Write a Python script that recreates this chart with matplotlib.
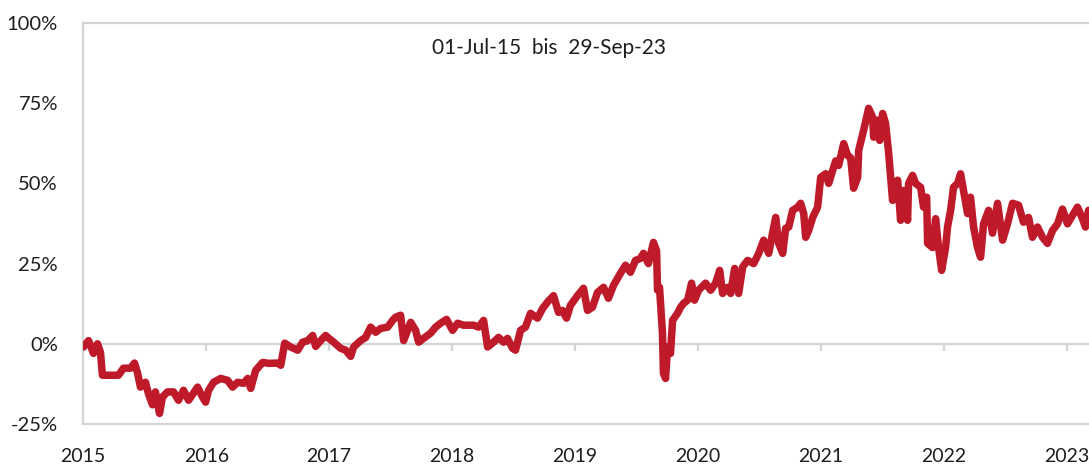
import numpy as np
import pandas as pd
import matplotlib
matplotlib.use("Agg")
import matplotlib.pyplot as plt
import matplotlib.dates as mdates
from matplotlib.ticker import FixedLocator, NullFormatter, FuncFormatter

plt.rcParams['font.family'] = ['Lato', 'DejaVu Sans']

# ---- data (decimal year, cumulative return in %) ----
decimal_years = [
    2015.500, 2015.541, 2015.581, 2015.614, 2015.638, 2015.654, 2015.720, 2015.785,
    2015.825, 2015.882, 2015.915, 2015.939, 2015.963, 2016.004, 2016.028, 2016.061,
    2016.085, 2016.118, 2016.142, 2016.183, 2016.232, 2016.272, 2016.313, 2016.354,
    2016.427, 2016.467, 2016.492, 2016.516, 2016.557, 2016.614, 2016.671, 2016.711,
    2016.752, 2016.801, 2016.833, 2016.858, 2016.898, 2016.955, 2017.004, 2017.077,
    2017.102, 2017.134, 2017.183, 2017.240, 2017.280, 2017.321, 2017.362, 2017.386,
    2017.427, 2017.467, 2017.484, 2017.533, 2017.589, 2017.630, 2017.671, 2017.695,
    2017.752, 2017.793, 2017.833, 2017.874, 2017.915, 2017.972, 2018.012, 2018.037,
    2018.077, 2018.102, 2018.134, 2018.159, 2018.199, 2018.224, 2018.264, 2018.321,
    2018.362, 2018.402, 2018.451, 2018.500, 2018.541, 2018.589, 2018.671, 2018.711,
    2018.752, 2018.785, 2018.833, 2018.874, 2018.915, 2018.947, 2018.988, 2019.012,
    2019.053, 2019.093, 2019.134, 2019.191, 2019.232, 2019.272, 2019.321, 2019.362,
    2019.394, 2019.427, 2019.459, 2019.516, 2019.565, 2019.598, 2019.638, 2019.679,
    2019.728, 2019.768, 2019.809, 2019.866, 2019.907, 2019.947, 2019.988, 2020.028,
    2020.053, 2020.093, 2020.134, 2020.159, 2020.167, 2020.183, 2020.207, 2020.215,
    2020.232, 2020.248, 2020.272, 2020.289, 2020.329, 2020.354, 2020.378, 2020.411,
    2020.443, 2020.467, 2020.500, 2020.557, 2020.598, 2020.638, 2020.671, 2020.695,
    2020.736, 2020.760, 2020.793, 2020.825, 2020.858, 2020.898, 2020.947, 2020.988,
    2021.028, 2021.069, 2021.102, 2021.126, 2021.150, 2021.183, 2021.207, 2021.232,
    2021.264, 2021.305, 2021.329, 2021.354, 2021.370, 2021.394, 2021.427, 2021.467,
    2021.492, 2021.533, 2021.557, 2021.589, 2021.614, 2021.638, 2021.679, 2021.711,
    2021.736, 2021.760, 2021.793, 2021.801, 2021.841, 2021.882, 2021.915, 2021.923,
    2021.955, 2021.972, 2021.996, 2022.020, 2022.045, 2022.077, 2022.118, 2022.142,
    2022.167, 2022.199, 2022.207, 2022.240, 2022.264, 2022.305, 2022.329, 2022.354,
    2022.362, 2022.402, 2022.427, 2022.451, 2022.476, 2022.508, 2022.524, 2022.549,
    2022.573, 2022.606, 2022.630, 2022.654, 2022.687, 2022.711, 2022.736, 2022.768,
    2022.793, 2022.817, 2022.858, 2022.890, 2022.931, 2022.972, 2023.012, 2023.053,
    2023.102, 2023.142, 2023.183, 2023.215, 2023.256, 2023.297, 2023.337, 2023.378,
    2023.419, 2023.459, 2023.500, 2023.541, 2023.581, 2023.622, 2023.646, 2023.671,
    2023.700, 2023.745,
]
returns_pct = [
    -1.0, 1.0, -3.0, 0.0, -2.7, -9.8, -9.8, -9.8,
    -7.6, -7.6, -6.0, -9.0, -13.5, -12.0, -15.5, -19.0,
    -15.0, -21.7, -16.6, -15.0, -15.0, -17.6, -14.5, -17.6,
    -13.5, -16.6, -18.2, -14.5, -12.0, -10.8, -11.4, -13.5,
    -12.0, -12.3, -10.8, -13.9, -8.3, -5.8, -6.1, -6.0,
    -6.7, 0.2, -1.0, -2.0, 0.5, 1.0, 2.6, -0.8,
    1.0, 2.6, 2.0, 0.5, -1.4, -2.0, -3.9, -1.0,
    1.0, 2.0, 5.2, 3.6, 4.8, 5.2, 7.3, 8.3,
    8.9, 1.0, 4.2, 6.7, 4.2, 0.5, 1.7, 3.3,
    5.2, 6.4, 7.6, 4.2, 6.4, 5.8, 5.8, 5.2,
    7.3, -1.0, 0.5, 2.0, 0.5, 1.7, -1.4, -2.0,
    4.2, 5.2, 9.5, 8.0, 11.0, 13.0, 15.0, 9.8,
    10.4, 8.0, 12.0, 15.0, 17.3, 10.4, 11.4, 16.0,
    17.6, 14.2, 18.2, 22.0, 24.5, 22.3, 26.0, 26.6,
    28.2, 25.0, 31.6, 29.0, 16.7, 17.6, 3.3, -9.2,
    -10.8, -1.0, -3.0, 7.3, 9.5, 11.4, 12.6, 13.6,
    18.9, 13.6, 16.7, 18.9, 16.7, 18.9, 22.9, 15.7,
    17.6, 15.7, 23.5, 15.7, 24.0, 26.0, 25.0, 28.2,
    32.3, 28.2, 34.8, 39.4, 31.3, 28.2, 36.0, 36.4,
    41.6, 42.6, 43.8, 40.6, 33.2, 35.3, 39.4, 42.6,
    51.9, 53.0, 50.0, 54.0, 57.0, 55.6, 62.4, 58.7,
    58.0, 48.5, 51.9, 60.3, 66.5, 73.4, 70.6, 64.4,
    69.7, 63.4, 71.8, 68.7, 59.4, 44.7, 51.0, 38.5,
    47.8, 38.5, 50.0, 52.5, 50.0, 48.8, 42.6, 45.7,
    31.3, 30.0, 39.0, 30.0, 22.9, 30.0, 36.4, 41.6,
    48.8, 50.0, 53.0, 47.8, 40.6, 45.7, 36.4, 30.0,
    27.0, 37.4, 41.6, 34.5, 43.8, 32.3, 37.4, 43.8,
    43.2, 37.9, 39.4, 33.2, 36.4, 33.2, 31.3, 35.3,
    37.4, 42.0, 37.4, 40.0, 42.6, 39.0, 36.4, 41.6,
    40.0, 39.0,
]
y_ticks = [-25, 0, 25, 50, 75, 100]
period_label = "01-Jul-15  bis  29-Sep-23"
start_date = "2015-07-01"
end_date = "2023-09-29"


def decimal_to_date(dy):
    yr = int(np.floor(dy))
    start = pd.Timestamp(year=yr, month=1, day=1)
    days = (pd.Timestamp(year=yr + 1, month=1, day=1) - start).days
    return start + pd.Timedelta(days=(dy - yr) * days)


dates = [decimal_to_date(d) for d in decimal_years]
xnum = mdates.date2num(dates)

W, H = 1089, 468
fig = plt.figure(figsize=(W / 100, H / 100), dpi=100)
fig.patch.set_facecolor('white')

x0 = mdates.date2num(pd.Timestamp(start_date))
x1 = mdates.date2num(pd.Timestamp(end_date))
left_px, right_px, top_px, bot_px = 83, 1097.3, 23, 424
ax = fig.add_axes([left_px / W, 1 - bot_px / H,
                   (right_px - left_px) / W, (bot_px - top_px) / H])

grey = '#D4D4D4'
red = '#BF1A2A'
txt = '#1E1E1E'

ax.plot(xnum, returns_pct, color=red, lw=5.4, solid_joinstyle='round',
        solid_capstyle='round', zorder=3)

ax.set_xlim(x0, x1)
ax.set_ylim(y_ticks[0], y_ticks[-1])

for s in ['left', 'top', 'bottom']:
    ax.spines[s].set_color(grey)
    ax.spines[s].set_linewidth(1.6)
ax.spines['right'].set_visible(False)

ax.yaxis.set_major_locator(FixedLocator(y_ticks))
ax.yaxis.set_major_formatter(FuncFormatter(lambda v, p: f"{int(v)}%"))
ax.tick_params(axis='y', length=0, pad=18, labelsize=14.5, labelcolor=txt)

year_loc = mdates.YearLocator(base=1, month=7, day=1)
ax.xaxis.set_major_locator(year_loc)
ax.xaxis.set_major_formatter(mdates.DateFormatter('%Y'))
ax.tick_params(axis='x', length=0, pad=17, labelsize=14, labelcolor=txt)

# zero line with tick marks
zero_frac = (0 - y_ticks[0]) / (y_ticks[-1] - y_ticks[0])
sec = ax.secondary_xaxis(zero_frac)
sec.xaxis.set_major_locator(mdates.YearLocator(base=1, month=7, day=1))
sec.xaxis.set_major_formatter(NullFormatter())
sec.tick_params(axis='x', direction='out', length=5, width=1.6, color=grey)
sec.spines['bottom'].set_color(grey)
sec.spines['bottom'].set_linewidth(1.6)
sec.set_zorder(1)

fig.text(549 / W, 1 - 48 / H, period_label, ha='center', va='center',
         fontsize=15, color=txt)

fig.savefig('out.png', dpi=100, facecolor='white')
